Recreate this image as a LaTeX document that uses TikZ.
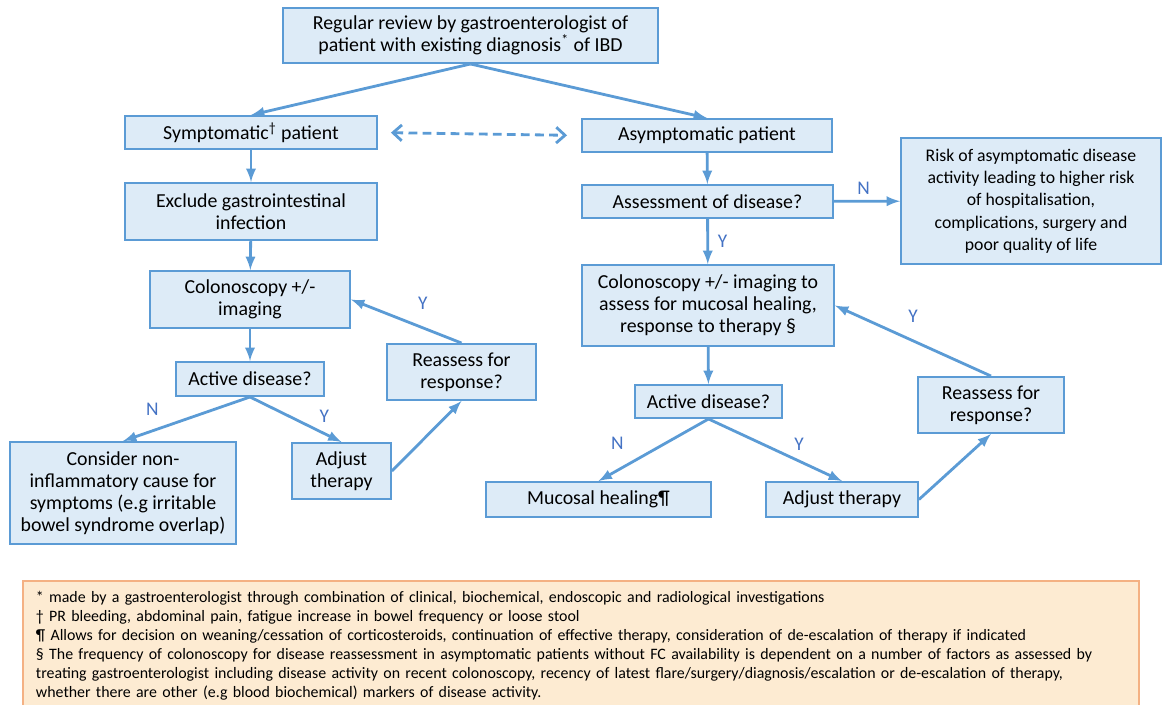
\documentclass[tikz,border=0pt]{standalone}
\usepackage{fontspec}
\setmainfont{Carlito}
\usetikzlibrary{positioning,arrows.meta}
\definecolor{boxfill}{HTML}{DDEBF7}
\definecolor{boxline}{HTML}{5B9BD5}
\definecolor{yncol}{HTML}{4472C4}
\definecolor{notefill}{HTML}{FDEBD2}
\definecolor{noteline}{HTML}{F4B183}
\tikzset{%
  flow box/.style={
    rectangle,
    draw=boxline,
    fill=boxfill,
    line width=1.1pt,
    align=center,
    inner sep=0pt,
    font=\fontsize{11.3}{12.6}\selectfont
  },
  yn/.style={
    text=yncol,
    inner sep=1pt,
    font=\fontsize{11}{12}\selectfont
  },
}
\begin{document}
\begin{tikzpicture}[x=0.02cm,y=-0.02cm,>=latex]
      \tikzstyle{link}=[->,draw=boxline,line width=1.6pt]
      \useasboundingbox (0,0) rectangle (1162,704);

      % top of the chart
      \node[flow box,minimum width=7.5cm,minimum height=1.1cm] (review) at (470.5,35.5)
        {Regular review by gastroenterologist of\\patient with existing diagnosis\textsuperscript{*} of IBD};

      % symptomatic side
      \node[flow box,minimum width=5.04cm,minimum height=0.66cm] (sympt) at (251,132.5)
        {Symptomatic\textsuperscript{†} patient};
      \node[flow box,minimum width=5.04cm,minimum height=1.14cm] (exclude) at (251,211.5)
        {Exclude gastrointestinal\\infection};
      \node[flow box,minimum width=4cm,minimum height=1.14cm] (colonl) at (250,299.5)
        {Colonoscopy +/-\\imaging};
      \node[flow box,minimum width=2.96cm,minimum height=0.68cm] (activel) at (250,379)
        {Active disease?};
      \node[flow box,minimum width=2.98cm,minimum height=1.12cm] (reassessl) at (461.5,372)
        {Reassess for\\response?};
      \node[flow box,minimum width=4.52cm,minimum height=2.04cm] (consider) at (123,493)
        {Consider non-\\inflammatory cause for\\symptoms (e.g irritable\\bowel syndrome overlap)};
      \node[flow box,minimum width=1.98cm,minimum height=1.12cm] (adjustl) at (341.5,471)
        {Adjust\\therapy};

      % asymptomatic side
      \node[flow box,minimum width=5cm,minimum height=0.66cm] (asympt) at (707,135.5)
        {Asymptomatic patient};
      \node[flow box,minimum width=5.02cm,minimum height=0.66cm] (assess) at (707.5,201.5)
        {Assessment of disease?};
      \node[flow box,minimum width=5.2cm,minimum height=2.52cm,font=\fontsize{10.1}{12.7}\selectfont] (risk) at (1031,201)
        {Risk of asymptomatic disease\\activity leading to higher risk\\of hospitalisation,\\complications, surgery and\\poor quality of life};
      \node[flow box,minimum width=5.04cm,minimum height=1.62cm] (colonr) at (708,305.5)
        {Colonoscopy +/- imaging to\\assess for mucosal healing,\\response to therapy §};
      \node[flow box,minimum width=2.94cm,minimum height=0.66cm] (activer) at (708.5,401.5)
        {Active disease?};
      \node[flow box,minimum width=2.92cm,minimum height=1.12cm] (reassessr) at (991,405)
        {Reassess for\\response?};
      \node[flow box,minimum width=4.5cm,minimum height=0.7cm] (mucosal) at (598.5,499.5)
        {Mucosal healing¶};
      \node[flow box,minimum width=3.04cm,minimum height=0.7cm] (adjustr) at (842,499.5)
        {Adjust therapy};

      % footnotes
      \node[draw=noteline,fill=notefill,line width=1.1pt,anchor=north west,
            minimum height=2.6cm,text width=21.8cm,inner xsep=0.26cm,align=left,
            font=\fontsize{9.05}{10.8}\selectfont] (notes) at (22,580)
        {* made by a gastroenterologist through combination of clinical, biochemical, endoscopic and radiological investigations\\
         † PR bleeding, abdominal pain, fatigue increase in bowel frequency or loose stool\\
         ¶ Allows for decision on weaning/cessation of corticosteroids, continuation of effective therapy, consideration of de-escalation of therapy if indicated\\
         § The frequency of colonoscopy for disease reassessment in asymptomatic patients without FC availability is dependent on a number of factors as assessed by\\
         treating gastroenterologist including disease activity on recent colonoscopy, recency of latest flare/surgery/diagnosis/escalation or de-escalation of therapy,\\
         whether there are other (e.g blood biochemical) markers of disease activity.};

      \draw[link] (review.south) -- (sympt.north);
      \draw[link] (review.south) -- (asympt.north);
      \draw[draw=boxline,line width=1.6pt,dash pattern=on 5pt off 3pt,
            {Straight Barb[length=5pt,width=9pt]}-{Straight Barb[length=5pt,width=9pt]},
            shorten <=0.26cm,shorten >=0.28cm] (sympt.east) -- (asympt.west);

      \draw[link] (sympt) -- (exclude);
      \draw[link] (exclude) -- (colonl);
      \draw[link] (colonl) -- (activel);
      \draw[link] (activel.south) -- node[yn,pos=0.55,above left=2pt,xshift=-0.32cm] {N} (consider.north);
      \draw[link] (activel.south) -- node[yn,pos=0.7,above right=2pt] {Y} (adjustl.north);
      \draw[link] (adjustl.east) -- (reassessl.south);
      \draw[link] (reassessl.north) -- node[yn,pos=0.35,above=0.3cm] {Y} (colonl.east);

      \draw[link] (asympt) -- (assess);
      \draw[link] (assess) -- node[yn,pos=0.45,above=2pt] {N} (risk);
      \draw[link] (assess) -- node[yn,right=4pt] {Y} (colonr);
      \draw[link] (colonr) -- (activer);
      \draw[link] (activer.south) -- node[yn,pos=0.6,above left=3pt,xshift=-0.24cm] {N} (mucosal.north);
      \draw[link] (activer.south) -- node[yn,pos=0.6,above right=2pt] {Y} (adjustr.north);
      \draw[link] (adjustr.east) -- (reassessr.south);
      \draw[link] (reassessr.north) -- node[yn,pos=0.5,above=0.3cm] {Y} (colonr.east);
\end{tikzpicture}
\end{document}
